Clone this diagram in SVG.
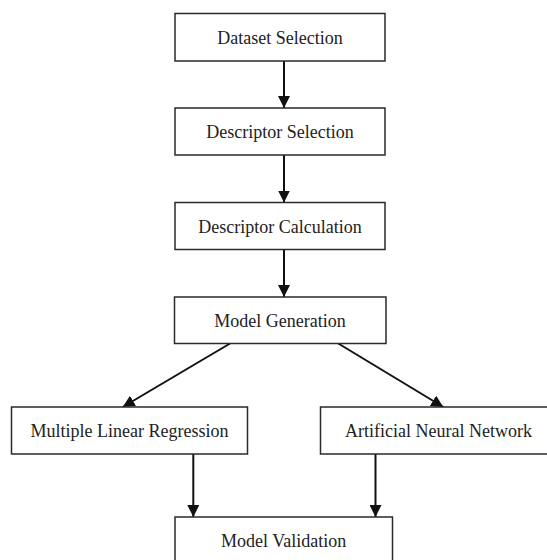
<svg xmlns="http://www.w3.org/2000/svg" width="547" height="560" viewBox="0 0 547 560">
<style>
.box{fill:#fff;stroke:#2a2a2a;stroke-width:1.5}
.lbl{font-family:"Liberation Serif","Times New Roman",serif;font-size:18px;fill:#222;text-anchor:middle}
.edge{stroke:#111;stroke-width:2;fill:none;marker-end:url(#ah)}
</style>
<defs>
<marker id="ah" viewBox="0 0 12 12" refX="12" refY="6" markerWidth="12" markerHeight="12" markerUnits="userSpaceOnUse" orient="auto">
<path d="M0,0 L12,6 L0,12 Z" fill="#111"/>
</marker>
</defs>
<rect width="547" height="560" fill="#fff"/>
<g id="connectors">
<line class="edge" x1="284" y1="61" x2="284" y2="108"/>
<line class="edge" x1="284" y1="155" x2="284" y2="202.5"/>
<line class="edge" x1="284" y1="249.5" x2="284" y2="297"/>
<line class="edge" x1="230" y1="343.5" x2="122.7" y2="407"/>
<line class="edge" x1="338.3" y1="343.5" x2="443.3" y2="407"/>
<line class="edge" x1="193.3" y1="454" x2="193.3" y2="517"/>
<line class="edge" x1="375.5" y1="454" x2="375.5" y2="517"/>
</g>
<g id="dataset-selection">
<rect class="box" x="175" y="13.5" width="210" height="47.5"/>
<text class="lbl" x="280" y="44">Dataset Selection</text>
</g>
<g id="descriptor-selection">
<rect class="box" x="175" y="108" width="210" height="47"/>
<text class="lbl" x="280" y="138.3">Descriptor Selection</text>
</g>
<g id="descriptor-calculation">
<rect class="box" x="175" y="202.5" width="210" height="47"/>
<text class="lbl" x="280" y="232.7">Descriptor Calculation</text>
</g>
<g id="model-generation">
<rect class="box" x="174.5" y="297" width="211.5" height="46.5"/>
<text class="lbl" x="280" y="326.7">Model Generation</text>
</g>
<g id="mlr">
<rect class="box" x="11.5" y="407" width="236" height="47"/>
<text class="lbl" x="129.5" y="437">Multiple Linear Regression</text>
</g>
<g id="ann">
<rect class="box" x="320.5" y="407" width="236" height="47"/>
<text class="lbl" x="438.5" y="437">Artificial Neural Network</text>
</g>
<g id="model-validation">
<rect class="box" x="175" y="517" width="217.5" height="47"/>
<text class="lbl" x="283.7" y="546.7">Model Validation</text>
</g>
</svg>
